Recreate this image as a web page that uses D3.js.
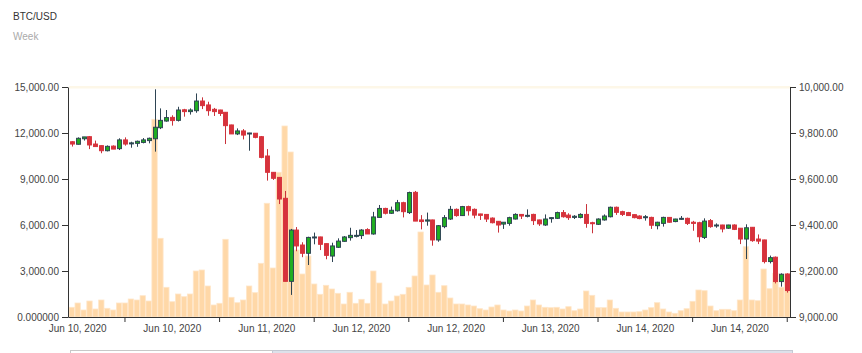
<!DOCTYPE html>
<html>
<head>
<meta charset="utf-8">
<script src="https://cdn.jsdelivr.net/npm/d3@7"></script>
<style>
    body { margin: 0; background: #fff; }
    #chart { width: 862px; height: 353px; }
    text { font-family: "Liberation Sans", Arial, sans-serif; }
    .axis text { font-size: 10px; fill: #444; }
    .axis path, .axis line { stroke: #333; }
</style>
</head>
<body>
<div id="chart"></div>
<script>
// hourly candles, Jun 10 - Jun 14 2020
const opens = [9762, 9751, 9775, 9784, 9752, 9745, 9723, 9743, 9732, 9770, 9754, 9755, 9759, 9767, 9775, 9823, 9852, 9868, 9855, 9901,
    9893, 9897, 9939, 9922, 9903, 9900, 9890, 9835, 9796, 9809, 9796, 9799, 9784, 9700, 9629, 9607, 9516, 9155, 9378, 9313,
    9277, 9344, 9348, 9319, 9265, 9303, 9329, 9345, 9352, 9354, 9380, 9361, 9433, 9472, 9451, 9462, 9497, 9454, 9542, 9422,
    9417, 9422, 9335, 9393, 9426, 9468, 9441, 9480, 9468, 9448, 9446, 9430, 9416, 9404, 9407, 9426, 9446, 9439, 9446, 9422,
    9400, 9428, 9429, 9454, 9443, 9433, 9433, 9446, 9410, 9403, 9422, 9436, 9477, 9458, 9454, 9445, 9439, 9432, 9433, 9397,
    9407, 9433, 9415, 9425, 9429, 9412, 9410, 9346, 9419, 9396, 9400, 9386, 9400, 9386, 9339, 9390, 9339, 9335, 9241, 9260,
    9154, 9187];
const highs = [9764, 9781, 9783, 9787, 9767, 9746, 9746, 9746, 9777, 9781, 9762, 9767, 9778, 9780, 9990, 9907, 9900, 9877, 9914, 9905,
    9907, 9972, 9955, 9936, 9909, 9901, 9891, 9836, 9820, 9817, 9801, 9800, 9787, 9730, 9630, 9608, 9548, 9383, 9391, 9325,
    9349, 9367, 9349, 9320, 9323, 9342, 9352, 9388, 9378, 9382, 9386, 9457, 9487, 9475, 9480, 9509, 9501, 9545, 9548, 9443,
    9454, 9423, 9400, 9443, 9483, 9472, 9483, 9484, 9472, 9449, 9447, 9433, 9417, 9413, 9436, 9451, 9447, 9468, 9449, 9423,
    9446, 9433, 9458, 9465, 9451, 9443, 9451, 9491, 9414, 9429, 9446, 9480, 9480, 9462, 9457, 9446, 9442, 9443, 9436, 9414,
    9436, 9434, 9427, 9439, 9432, 9418, 9414, 9429, 9426, 9407, 9401, 9401, 9403, 9387, 9403, 9391, 9359, 9336, 9267, 9263,
    9190, 9190];
const lows = [9741, 9750, 9767, 9730, 9741, 9712, 9720, 9730, 9726, 9745, 9736, 9740, 9755, 9755, 9719, 9817, 9849, 9832, 9850, 9871,
    9880, 9888, 9904, 9875, 9874, 9874, 9752, 9796, 9791, 9772, 9723, 9777, 9690, 9593, 9596, 9491, 9155, 9096, 9286, 9260,
    9226, 9316, 9291, 9251, 9239, 9300, 9327, 9332, 9346, 9339, 9361, 9358, 9433, 9446, 9448, 9458, 9433, 9448, 9417, 9381,
    9397, 9310, 9327, 9386, 9422, 9436, 9439, 9441, 9429, 9422, 9413, 9407, 9367, 9383, 9397, 9424, 9426, 9433, 9400, 9396,
    9396, 9410, 9426, 9432, 9422, 9426, 9429, 9388, 9364, 9400, 9419, 9433, 9444, 9439, 9439, 9429, 9425, 9419, 9383, 9381,
    9393, 9410, 9412, 9422, 9400, 9375, 9325, 9339, 9388, 9388, 9368, 9383, 9378, 9317, 9252, 9327, 9317, 9233, 9233, 9146,
    9132, 9106];
const closes = [9752, 9777, 9783, 9748, 9741, 9723, 9742, 9730, 9770, 9752, 9757, 9764, 9770, 9777, 9825, 9855, 9867, 9854, 9900, 9893,
    9900, 9939, 9919, 9897, 9893, 9885, 9832, 9796, 9809, 9791, 9800, 9781, 9694, 9629, 9603, 9513, 9155, 9378, 9309, 9277,
    9346, 9348, 9316, 9268, 9309, 9330, 9348, 9355, 9355, 9378, 9361, 9435, 9472, 9451, 9464, 9497, 9458, 9541, 9417, 9415,
    9422, 9335, 9397, 9432, 9468, 9441, 9480, 9462, 9443, 9442, 9426, 9410, 9400, 9412, 9432, 9446, 9439, 9442, 9419, 9405,
    9426, 9432, 9454, 9436, 9432, 9438, 9446, 9407, 9406, 9426, 9439, 9477, 9455, 9446, 9441, 9432, 9428, 9436, 9399, 9412,
    9433, 9412, 9426, 9429, 9407, 9407, 9349, 9417, 9393, 9400, 9383, 9400, 9381, 9339, 9388, 9332, 9330, 9241, 9258, 9154,
    9186, 9115];
const volumes = [633, 913, 457, 1043, 522, 1109, 567, 457, 913, 913, 1174, 1109, 1389, 1043, 12894, 5133, 1937, 998, 1500, 1324,
    1500, 3000, 3065, 2022, 783, 894, 5068, 1285, 933, 1109, 2022, 1585, 3502, 7416, 3196, 9437, 12457, 10761, 4370, 2804,
    3978, 2152, 1480, 2067, 1826, 1546, 848, 1611, 894, 1154, 894, 3000, 2217, 848, 1043, 1370, 1480, 1937, 2674, 5544,
    2087, 2739, 1611, 2041, 1239, 848, 848, 783, 717, 541, 457, 652, 783, 457, 391, 457, 391, 717, 1109, 783,
    633, 607, 633, 522, 672, 411, 522, 1696, 1415, 607, 607, 1109, 567, 326, 326, 326, 346, 457, 607, 933,
    522, 326, 241, 411, 541, 1024, 1761, 1715, 717, 411, 502, 502, 411, 1109, 4585, 1109, 1063, 3130, 1846, 2850,
    1937, 2804];

const tickIdx = [9, 25, 41, 57, 73, 89, 105, 121];
const tickLabels = ["Jun 10, 2020", "Jun 10, 2020", "Jun 11, 2020", "Jun 12, 2020",
    "Jun 12, 2020", "Jun 13, 2020", "Jun 14, 2020", "Jun 14, 2020"];
const volumeTicks = [0, 3000, 6000, 9000, 12000, 15000];
const priceTicks = [9000, 9200, 9400, 9600, 9800, 10000];

class CandleChart {

    constructor(parentElement) {
        const self = this;
        self.parentElement = parentElement;
        self.data = opens.map((o, i) => ({
            i: i, open: o, high: highs[i], low: lows[i], close: closes[i], volume: volumes[i]
        }));
        self.left = 68;
        self.right = 790;
        self.top = 87;
        self.bottom = 317;
        self.initVis();
    }

    initVis() {
        const self = this;
        self.svg = d3.select("#" + self.parentElement).append("svg")
            .attr("width", 862)
            .attr("height", 353);

        // title + subtitle
        self.svg.append("text").attr("x", 13).attr("y", 20)
            .attr("font-size", 10).attr("fill", "#333").text("BTC/USD");
        self.svg.append("text").attr("x", 13).attr("y", 40)
            .attr("font-size", 10).attr("fill", "#aaa").text("Week");

        // thin band along the top of the plot
        self.svg.append("rect")
            .attr("x", self.left + 1).attr("y", self.top - 1)
            .attr("width", self.right - self.left).attr("height", 2.5)
            .attr("fill", "#fdf7e8");

        self.xScale = d3.scaleBand().domain(self.data.map(d => d.i))
            .range([self.left + 0.5, self.right + 0.5]).padding(0.1);
        self.yVol = d3.scaleLinear().domain([0, 15000]).range([self.bottom, self.top]);
        self.yPrice = d3.scaleLinear().domain([9000, 10000]).range([self.bottom, self.top]);

        self.drawVolume();
        self.drawCandles();
        self.drawAxes();
        self.drawScroller();
    }

    drawVolume() {
        const self = this;
        self.svg.append("g").selectAll("rect.vol")
            .data(self.data)
            .enter()
            .append("rect")
            .attr("class", "vol")
            .attr("x", d => self.xScale(d.i))
            .attr("y", d => self.yVol(d.volume))
            .attr("width", self.xScale.bandwidth())
            .attr("height", d => self.yVol(0) - self.yVol(d.volume))
            .attr("fill", "#ffd8a8")
            .attr("stroke", "#ffe6c9")
            .attr("stroke-width", 0.8);
    }

    drawCandles() {
        const self = this;
        const step = self.xScale.step();
        const bodyW = step * 0.66;
        const cx = d => self.xScale(d.i) + self.xScale.bandwidth() / 2;
        const up = d => d.close >= d.open;

        const g = self.svg.append("g").selectAll("g.candle")
            .data(self.data)
            .enter()
            .append("g")
            .attr("class", "candle");

        g.append("line")
            .attr("x1", d => Math.round(cx(d)) + 0.5)
            .attr("x2", d => Math.round(cx(d)) + 0.5)
            .attr("y1", d => self.yPrice(d.high))
            .attr("y2", d => self.yPrice(d.low))
            .attr("stroke", d => up(d) ? "#2e4453" : "#c9323b")
            .attr("stroke-width", 1);

        g.append("rect")
            .attr("x", d => Math.round(cx(d)) + 0.5 - bodyW / 2)
            .attr("y", d => self.yPrice(Math.max(d.open, d.close)))
            .attr("width", bodyW)
            .attr("height", d => Math.max(1, Math.abs(self.yPrice(d.open) - self.yPrice(d.close))))
            .attr("fill", d => up(d) ? "#20b020" : "#d7333c")
            .attr("stroke", d => up(d) ? "#2e4453" : "#d7333c")
            .attr("stroke-width", 1);
    }

    drawAxes() {
        const self = this;
        const step = self.xScale.step();

        const xAxis = d3.axisBottom(self.xScale)
            .tickValues(tickIdx)
            .tickFormat((d, k) => tickLabels[k])
            .tickSize(5)
            .tickSizeOuter(0);
        const xg = self.svg.append("g")
            .attr("class", "axis x-axis")
            .attr("transform", `translate(0, ${self.bottom})`)
            .call(xAxis);
        xg.select(".domain").attr("d", `M${self.left + 0.5},0.5H${self.right + 0.5}`);
        xg.selectAll("text").attr("x", -8 * step);

        const fmt = d3.format(",.2f");
        const yAxisLeft = d3.axisLeft(self.yVol)
            .tickValues(volumeTicks)
            .tickFormat(d => d === 0 ? "0.000000" : fmt(d))
            .tickSize(6)
            .tickSizeOuter(0);
        self.svg.append("g")
            .attr("class", "axis y-axis")
            .attr("transform", `translate(${self.left}, 0)`)
            .call(yAxisLeft);

        const yAxisRight = d3.axisRight(self.yPrice)
            .tickValues(priceTicks)
            .tickFormat(fmt)
            .tickSize(6)
            .tickSizeOuter(0);
        self.svg.append("g")
            .attr("class", "axis y-axis-right")
            .attr("transform", `translate(${self.right}, 0)`)
            .call(yAxisRight);
    }

    drawScroller() {
        const self = this;
        self.svg.append("rect")
            .attr("x", 70.5).attr("y", 350.5).attr("width", 202).attr("height", 6)
            .attr("fill", "#fff").attr("stroke", "#c8c8c8");
        self.svg.append("rect")
            .attr("x", 272.5).attr("y", 350.5).attr("width", 520).attr("height", 6)
            .attr("fill", "#dde1ea").attr("stroke", "#c4c9d3");
    }
}

new CandleChart("chart");
</script>
</body>
</html>
